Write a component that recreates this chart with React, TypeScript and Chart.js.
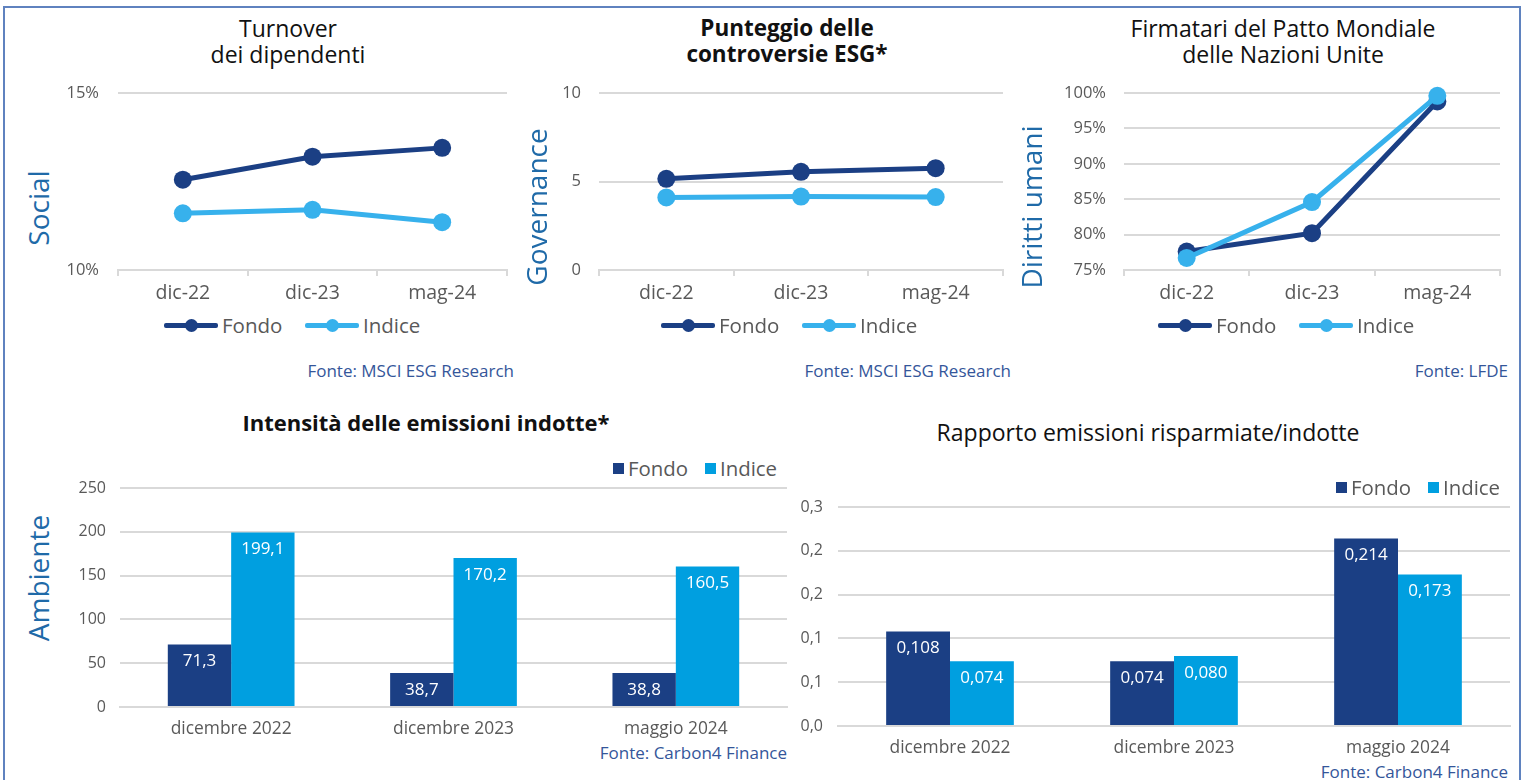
import React, { useEffect, useRef } from 'react';
import { Chart, registerables } from 'chart.js';

Chart.register(...registerables);

// ---------- data ----------
const lineCategories = ['dic-22', 'dic-23', 'mag-24'];
const turnoverFondo = [12.55, 13.2, 13.45];
const turnoverIndice = [11.6, 11.7, 11.35];
const controversieFondo = [5.15, 5.55, 5.75];
const controversieIndice = [4.1, 4.15, 4.12];
const firmatariFondo = [77.6, 80.2, 98.8];
const firmatariIndice = [76.7, 84.6, 99.6];

const barCategories = ['dicembre 2022', 'dicembre 2023', 'maggio 2024'];
const intensitaFondo = [71.3, 38.7, 38.8];
const intensitaIndice = [199.1, 170.2, 160.5];
const rapportoFondo = [0.108, 0.074, 0.214];
const rapportoIndice = [0.074, 0.08, 0.173];

const seriesNames = ['Fondo', 'Indice'];

// ---------- style ----------
const NAVY = '#1b3f84';
const LIGHT = '#37b1ec';
const BAR_LIGHT = '#009fe0';
const GRID = '#d9d9d9';
const TICK = '#595959';
const AXIS_TITLE = '#1f6aa8';
const SOURCE = '#34569a';
const TITLE = '#111111';
const FONT = '"Open Sans", "Noto Sans", sans-serif';

type Area = { l: number; t: number; r: number; b: number };

const PT = 16;
const PR = 12;

function ChartCanvas({ area, yw, xh, build }: { area: Area; yw: number; xh: number; build: (yw: number, xh: number) => any }) {
  const ref = useRef<HTMLCanvasElement>(null);
  const left = area.l - yw;
  const top = area.t - PT;
  const width = area.r + PR - left;
  const height = area.b + xh - top;
  useEffect(() => {
    const cfg = build(yw, xh);
    const chart = new Chart(ref.current as HTMLCanvasElement, cfg);
    return () => chart.destroy();
  }, []);
  return (
    <canvas
      ref={ref}
      width={width}
      height={height}
      style={{ position: 'absolute', left, top, width, height }}
    />
  );
}

function baseOptions(yw: number, xh: number, y: any, x: any, plugins: any = {}) {
  return {
    responsive: false,
    maintainAspectRatio: false,
    animation: false,
    layout: { autoPadding: false, padding: { top: PT, right: PR, left: 0, bottom: 0 } },
    plugins: { legend: { display: false }, title: { display: false }, tooltip: { enabled: false }, ...plugins },
    scales: {
      x: {
        ...x,
        afterFit: (s: any) => {
          s.height = xh;
          s.paddingLeft = 0;
          s.paddingRight = 0;
        },
      },
      y: {
        ...y,
        afterFit: (s: any) => {
          s.width = yw;
          s.paddingTop = 0;
          s.paddingBottom = 0;
        },
      },
    },
  };
}

function lineConfig(
  fondo: number[],
  indice: number[],
  min: number,
  max: number,
  step: number,
  suffix: string,
  tickPad: number
) {
  return (yw: number, xh: number) => ({
    type: 'line',
    data: {
      labels: lineCategories,
      datasets: [
        {
          label: seriesNames[0],
          data: fondo,
          borderColor: NAVY,
          backgroundColor: NAVY,
          pointBackgroundColor: NAVY,
          borderWidth: 5,
          pointRadius: 9,
          pointBorderWidth: 0,
          clip: false,
          order: 2,
        },
        {
          label: seriesNames[1],
          data: indice,
          borderColor: LIGHT,
          backgroundColor: LIGHT,
          pointBackgroundColor: LIGHT,
          borderWidth: 5,
          pointRadius: 9,
          pointBorderWidth: 0,
          clip: false,
          order: 1,
        },
      ],
    },
    options: baseOptions(
      yw,
      xh,
      {
        min,
        max,
        ticks: {
          stepSize: step,
          padding: tickPad,
          color: TICK,
          font: { family: FONT, size: 16.5 },
          callback: (v: any) => `${v}${suffix}`,
        },
        grid: { color: GRID, lineWidth: 2, drawTicks: false },
        border: { display: false },
      },
      {
        offset: true,
        grid: { offset: true, drawOnChartArea: false, drawTicks: true, tickLength: 6, color: GRID, lineWidth: 2 },
        border: { display: true, color: GRID, width: 2 },
        ticks: { padding: 6, color: TICK, font: { family: FONT, size: 19.5 } },
      }
    ),
  });
}

function valueLabels(decimals: number) {
  return {
    id: 'valueLabels',
    afterDatasetsDraw(chart: any) {
      const ctx = chart.ctx;
      ctx.save();
      ctx.fillStyle = '#ffffff';
      ctx.font = `17px ${FONT}`;
      ctx.textAlign = 'center';
      ctx.textBaseline = 'middle';
      chart.data.datasets.forEach((ds: any, i: number) => {
        chart.getDatasetMeta(i).data.forEach((el: any, j: number) => {
          const v = ds.data[j] as number;
          ctx.fillText(v.toFixed(decimals).replace('.', ','), el.x, el.y + 17);
        });
      });
      ctx.restore();
    },
  };
}

function barConfig(
  fondo: number[],
  indice: number[],
  max: number,
  step: number,
  tickFmt: (v: number) => string,
  decimals: number,
  tickPad: number
) {
  return (yw: number, xh: number) => ({
    type: 'bar',
    data: {
      labels: barCategories,
      datasets: [
        { label: seriesNames[0], data: fondo, backgroundColor: NAVY, borderWidth: 0, barPercentage: 1, categoryPercentage: 0.57 },
        { label: seriesNames[1], data: indice, backgroundColor: BAR_LIGHT, borderWidth: 0, barPercentage: 1, categoryPercentage: 0.57 },
      ],
    },
    plugins: [valueLabels(decimals)],
    options: baseOptions(
      yw,
      xh,
      {
        min: 0,
        max,
        ticks: {
          stepSize: step,
          padding: tickPad,
          color: TICK,
          font: { family: FONT, size: 16 },
          callback: (v: any) => tickFmt(Number(v)),
        },
        grid: { color: GRID, lineWidth: 2, drawTicks: false },
        border: { display: false },
      },
      {
        grid: { display: false },
        border: { display: true, color: GRID, width: 2 },
        ticks: { padding: 4, color: TICK, font: { family: FONT, size: 17.4 } },
      }
    ),
  });
}

// ---------- html helpers ----------
const abs: React.CSSProperties = { position: 'absolute', whiteSpace: 'nowrap', fontFamily: FONT };

function Title({ x, y, lines, bold, size = 23 }: { x: number; y: number; lines: string[]; bold?: boolean; size?: number }) {
  return (
    <div
      style={{
        ...abs,
        left: x,
        top: y - 13,
        transform: 'translateX(-50%)',
        textAlign: 'center',
        fontSize: size,
        lineHeight: '26px',
        fontWeight: bold ? 700 : 400,
        color: TITLE,
      }}
    >
      {lines.map((l) => (
        <div key={l}>{l}</div>
      ))}
    </div>
  );
}

function AxisTitle({ x, y, text }: { x: number; y: number; text: string }) {
  return (
    <div
      style={{
        ...abs,
        left: x,
        top: y,
        transform: 'translate(-50%, -50%) rotate(-90deg)',
        fontSize: 28,
        color: AXIS_TITLE,
        lineHeight: '32px',
      }}
    >
      {text}
    </div>
  );
}

function Source({ right, y, text }: { right: number; y: number; text: string }) {
  return (
    <div style={{ ...abs, right: 1527 - right, top: y - 11, fontSize: 17, lineHeight: '22px', color: SOURCE }}>{text}</div>
  );
}

function LineLegend({ x, y, color, text }: { x: number; y: number; color: string; text: string }) {
  return (
    <>
      <div style={{ position: 'absolute', left: x, top: y - 2.5, width: 54, height: 5, background: color, borderRadius: 2 }} />
      <div style={{ position: 'absolute', left: x + 27 - 6.5, top: y - 6.5, width: 13, height: 13, background: color, borderRadius: '50%' }} />
      <div style={{ ...abs, left: x + 58, top: y - 13, fontSize: 20.5, lineHeight: '26px', color: TICK }}>{text}</div>
    </>
  );
}

function BarLegend({ x, y, color, text }: { x: number; y: number; color: string; text: string }) {
  return (
    <>
      <div style={{ position: 'absolute', left: x, top: y - 5.5, width: 11, height: 11, background: color }} />
      <div style={{ ...abs, left: x + 15, top: y - 13, fontSize: 20.4, lineHeight: '26px', color: TICK }}>{text}</div>
    </>
  );
}

const fmtRatio = (v: number) => (Math.round(v * 10 + 1e-6) / 10).toFixed(1).replace('.', ',');

export default function App() {
  useEffect(() => {
    document.body.style.margin = '0';
  }, []);
  return (
    <div style={{ position: 'absolute', left: 0, top: 0, width: 1527, height: 780, overflow: 'hidden', background: '#fff' }}>
      <div style={{ position: 'absolute', left: 3, top: 6, width: 1518, height: 800, border: '2px solid #5f82bf', boxSizing: 'border-box' }} />

      {/* Chart 1 */}
      <Title x={288} y={28} lines={['Turnover', 'dei dipendenti']} />
      <AxisTitle x={38} y={208} text="Social" />
      <ChartCanvas area={{ l: 118, t: 93, r: 507, b: 270 }} yw={58} xh={40} build={lineConfig(turnoverFondo, turnoverIndice, 10, 15, 5, '%', 19)} />
      <LineLegend x={164} y={325} color={NAVY} text={seriesNames[0]} />
      <LineLegend x={305} y={325} color={LIGHT} text={seriesNames[1]} />
      <Source right={514} y={371} text="Fonte: MSCI ESG Research" />

      {/* Chart 2 */}
      <Title x={787} y={28} lines={['Punteggio delle', 'controversie ESG*']} bold size={22.5} />
      <AxisTitle x={536} y={207} text="Governance" />
      <ChartCanvas area={{ l: 599, t: 93, r: 1003, b: 270 }} yw={50} xh={40} build={lineConfig(controversieFondo, controversieIndice, 0, 10, 5, '', 18)} />
      <LineLegend x={661} y={325} color={NAVY} text={seriesNames[0]} />
      <LineLegend x={802} y={325} color={LIGHT} text={seriesNames[1]} />
      <Source right={1011} y={371} text="Fonte: MSCI ESG Research" />

      {/* Chart 3 */}
      <Title x={1283} y={28} lines={['Firmatari del Patto Mondiale', 'delle Nazioni Unite']} />
      <AxisTitle x={1031} y={207} text="Diritti umani" />
      <ChartCanvas area={{ l: 1124, t: 93, r: 1500, b: 270 }} yw={70} xh={40} build={lineConfig(firmatariFondo, firmatariIndice, 75, 100, 5, '%', 18)} />
      <LineLegend x={1158} y={325} color={NAVY} text={seriesNames[0]} />
      <LineLegend x={1299} y={325} color={LIGHT} text={seriesNames[1]} />
      <Source right={1508} y={371} text="Fonte: LFDE" />

      {/* Chart 4 */}
      <Title x={426} y={422} lines={['Intensità delle emissioni indotte*']} bold size={22} />
      <AxisTitle x={38} y={578} text="Ambiente" />
      <BarLegend x={613} y={468} color={NAVY} text={seriesNames[0]} />
      <BarLegend x={705} y={468} color={BAR_LIGHT} text={seriesNames[1]} />
      <ChartCanvas
        area={{ l: 120, t: 488, r: 787, b: 707 }}
        yw={60}
        xh={34}
        build={barConfig(intensitaFondo, intensitaIndice, 250, 50, (v) => String(v), 1, 14)}
      />
      <Source right={787} y={753} text="Fonte: Carbon4 Finance" />

      {/* Chart 5 */}
      <Title x={1148} y={432} lines={['Rapporto emissioni risparmiate/indotte']} size={23} />
      <BarLegend x={1336} y={487} color={NAVY} text={seriesNames[0]} />
      <BarLegend x={1428} y={487} color={BAR_LIGHT} text={seriesNames[1]} />
      <ChartCanvas
        area={{ l: 838, t: 507, r: 1510, b: 726 }}
        yw={50}
        xh={34}
        build={barConfig(rapportoFondo, rapportoIndice, 0.25, 0.05, fmtRatio, 3, 15)}
      />
      <Source right={1508} y={772} text="Fonte: Carbon4 Finance" />
    </div>
  );
}
